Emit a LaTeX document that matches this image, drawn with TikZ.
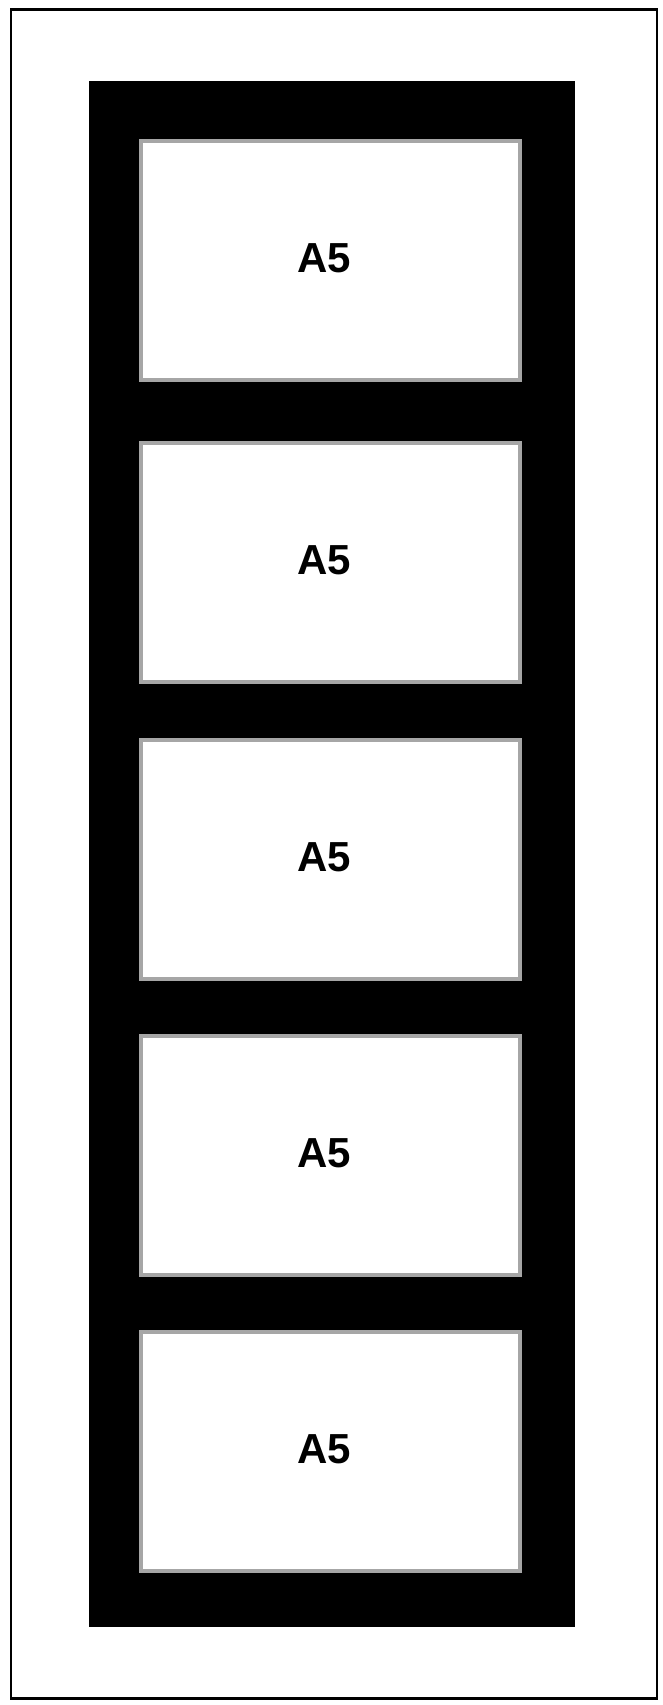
\documentclass[tikz,border=0pt]{standalone}
\usepackage{fontspec}
\setmainfont{Liberation Sans}
\usetikzlibrary{positioning}

\definecolor{sheetgray}{RGB}{166,166,166}

\begin{document}
\begin{tikzpicture}[
    x=1pt, y=-1pt,
    outer frame/.style={draw=black, line width=2.5pt},
    mount/.style={fill=black},
    sheet/.style={draw=sheetgray, fill=white, line width=4pt, minimum width=379pt, minimum height=239pt, inner sep=0pt},
    sheet label/.style={font=\fontsize{42}{42}\selectfont\bfseries, inner sep=0pt}
]

    % === Page ===
    \useasboundingbox (0,0) rectangle (663,1705);
    \draw[outer frame] (11,9.5) rectangle (657,1698.5);

    % === Black mount ===
    \fill[mount] (89,81) rectangle (575,1627);

    % === Sheets ===
    \node[sheet] (A1) at (330.5,260.5) {};
    \node[sheet] (A2) at (330.5,562.5) {};
    \node[sheet] (A3) at (330.5,859.5) {};
    \node[sheet] (A4) at (330.5,1155.5) {};
    \node[sheet] (A5) at (330.5,1451.5) {};

    % Labels, a little left of centre
    \node[sheet label] (L1) at ([xshift=-6pt, yshift=2pt]A1.center) {A5};
    \node[sheet label] (L2) at ([xshift=-6pt, yshift=2pt]A2.center) {A5};
    \node[sheet label] (L3) at ([xshift=-6pt, yshift=2pt]A3.center) {A5};
    \node[sheet label] (L4) at ([xshift=-6pt, yshift=2pt]A4.center) {A5};
    \node[sheet label] (L5) at ([xshift=-6pt, yshift=2pt]A5.center) {A5};

\end{tikzpicture}
\end{document}
